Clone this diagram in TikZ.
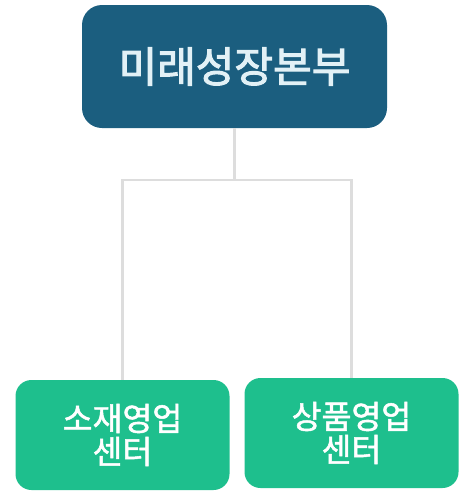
\documentclass[tikz,border=0pt]{standalone}
\usepackage{fontspec}
\setmainfont{Noto Sans CJK KR}
\newfontfamily\topfont[FakeBold=2.5]{Noto Sans CJK KR}
\newfontfamily\unitfont[FakeBold=1.5]{Noto Sans CJK KR}
\definecolor{topc}{HTML}{1B5E7F}
\definecolor{greenc}{HTML}{1EBF8D}
\definecolor{topt}{HTML}{E2F1F6}
\definecolor{linec}{HTML}{DDDDDD}
\tikzset{
  topbox/.style={draw=none, fill=topc, rounded corners=20pt, minimum width=305pt, minimum height=123pt, text=topt, font=\topfont\fontsize{42}{46}\selectfont},
  unitbox/.style={draw=none, fill=greenc, rounded corners=16pt, minimum width=214pt, minimum height=110pt, text=white, align=center, font=\unitfont\fontsize{32.5}{33}\selectfont},
  conn/.style={draw=linec, line width=2.5pt}
}
\begin{document}
\begin{tikzpicture}[x=1pt,y=-1pt]
\useasboundingbox (0,0) rectangle (476,499);
\node[topbox] (top) at (234.5,66.5) {미래성장본부};
\node[unitbox] (l) at (122.5,435) {소재영업\\센터};
\node[unitbox] (r) at (351.5,433) {상품영업\\센터};
\coordinate (j) at (234.5,180);
\draw[conn] (top.south) -- (j);
\draw[conn] (l.north) |- (j) -| (r.north);
\end{tikzpicture}
\end{document}
